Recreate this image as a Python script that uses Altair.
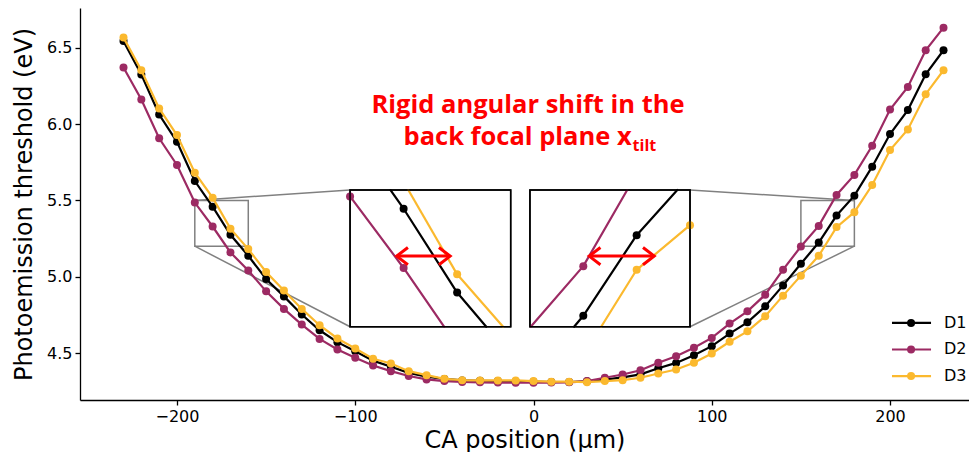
import altair as alt
import pandas as pd

# ---------------- data ----------------
x_pos = list(range(-230, 231, 10))

d1 = [6.544, 6.325, 6.063, 5.884, 5.627, 5.459, 5.275, 5.137, 4.985, 4.871,
      4.752, 4.649, 4.571, 4.512, 4.450, 4.410, 4.370, 4.345, 4.330, 4.320,
      4.318, 4.316, 4.314, 4.312, 4.310, 4.310, 4.315, 4.325, 4.340, 4.360,
      4.400, 4.435, 4.485, 4.545, 4.627, 4.701, 4.806, 4.943, 5.085, 5.224,
      5.401, 5.531, 5.721, 5.935, 6.092, 6.327, 6.484]
d2 = [6.371, 6.161, 5.907, 5.732, 5.486, 5.329, 5.159, 5.041, 4.904, 4.789,
      4.686, 4.592, 4.523, 4.469, 4.418, 4.381, 4.349, 4.327, 4.316, 4.310,
      4.308, 4.306, 4.305, 4.305, 4.306, 4.308, 4.316, 4.338, 4.359, 4.387,
      4.436, 4.479, 4.534, 4.599, 4.693, 4.773, 4.882, 5.046, 5.198, 5.333,
      5.536, 5.667, 5.858, 6.096, 6.244, 6.484, 6.632]
d3 = [6.567, 6.353, 6.103, 5.928, 5.682, 5.518, 5.315, 5.181, 5.031, 4.910,
      4.789, 4.682, 4.595, 4.530, 4.462, 4.431, 4.381, 4.355, 4.331, 4.322,
      4.320, 4.320, 4.320, 4.316, 4.312, 4.312, 4.309, 4.316, 4.322, 4.338,
      4.366, 4.392, 4.436, 4.497, 4.574, 4.642, 4.741, 4.876, 5.007, 5.137,
      5.325, 5.423, 5.601, 5.830, 5.965, 6.196, 6.353]

series_names = ["D1", "D2", "D3"]
series_colors = ["#000000", "#9C2A63", "#FBB92E"]

x_ticks = [-200, -100, 0, 100, 200]
y_ticks = [4.5, 5.0, 5.5, 6.0, 6.5]
x_domain = [-254.4, 244.3]
y_domain = [4.192, 6.761]

# zoomed windows (data coords) and where the insets sit (main-axis data coords)
inset_src_x = [[-190, -160], [150, 180]]
inset_src_y = [5.2, 5.5]
inset_box_x = [[-102.9, -12.8], [-2.0, 87.8]]
inset_box_y = [4.672, 5.568]
inset_side = ["left", "right"]

# red double arrows (inset data coords)
arrow_x = [[-181.3, -171.3], [161.1, 173.3]]
arrow_y = 5.355

# annotation text (main-axis data coords)
title_text = ["Rigid angular shift in the", "back focal plane x", "tilt"]
title_x = [-3.1, 55.1, 55.6]
title_y = [6.071, 5.866, 5.826]
title_size = [25.5, 25.5, 16]
title_align = ["center", "right", "left"]

# legend placement (main-axis data coords)
legend_y = [4.697, 4.523, 4.349]
legend_line_x = [201.1, 223.0]
legend_marker_x = 211.8
legend_label_x = 230.3

# ---------------- tables ----------------
rows = []
for name, vals in zip(series_names, [d1, d2, d3]):
    for xv, yv in zip(x_pos, vals):
        rows.append({"x": xv, "y": yv, "series": name})
df = pd.DataFrame(rows)

rect_df = pd.DataFrame({
    "x0": [s[0] for s in inset_src_x], "x1": [s[1] for s in inset_src_x],
    "y0": [inset_src_y[0]] * 2, "y1": [inset_src_y[1]] * 2,
})
box_df = pd.DataFrame({
    "x0": [b[0] for b in inset_box_x], "x1": [b[1] for b in inset_box_x],
    "y0": [inset_box_y[0]] * 2, "y1": [inset_box_y[1]] * 2,
})
con_rows = []
for k in range(2):
    idx = 0 if inset_side[k] == "left" else 1
    for j in range(2):
        con_rows.append({"xa": inset_src_x[k][idx], "ya": inset_src_y[j],
                         "xb": inset_box_x[k][idx], "yb": inset_box_y[j]})
con_df = pd.DataFrame(con_rows)

leg_df = pd.DataFrame({
    "series": series_names, "ly": legend_y,
    "lx0": [legend_line_x[0]] * 3, "lx1": [legend_line_x[1]] * 3,
    "lxc": [legend_marker_x] * 3, "ltx": [legend_label_x] * 3,
})

xs = alt.Scale(domain=x_domain, nice=False, zero=False)
ys = alt.Scale(domain=y_domain, nice=False, zero=False)
cs = alt.Scale(domain=series_names, range=series_colors)

AX = alt.Axis(values=x_ticks, grid=False, format="d")
AY = alt.Axis(values=y_ticks, grid=False, format=".1f", titlePadding=10)
XT = "CA position (µm)"
YT = "Photoemission threshold (eV)"


def X(f):
    return alt.X(f, scale=xs, axis=AX, title=XT)


def Y(f):
    return alt.Y(f, scale=ys, axis=AY, title=YT)


def C():
    return alt.Color("series:N", scale=cs, legend=None)


layers = []

# zoom rectangles and connectors
layers.append(alt.Chart(rect_df).mark_rect(fillOpacity=0, stroke="#808080", strokeWidth=1.5)
              .encode(x=X("x0:Q"), x2="x1:Q", y=Y("y0:Q"), y2="y1:Q"))
layers.append(alt.Chart(con_df).mark_rule(stroke="#808080", strokeWidth=1.5)
              .encode(x=X("xa:Q"), y=Y("ya:Q"), x2="xb:Q", y2="yb:Q"))

# main series
for name in series_names:
    base = alt.Chart(df).transform_filter(alt.datum.series == name)
    layers.append(base.mark_line(strokeWidth=2.2).encode(x=X("x:Q"), y=Y("y:Q"), color=C()))
    layers.append(base.mark_circle(size=64, opacity=1).encode(x=X("x:Q"), y=Y("y:Q"), color=C()))

# insets
for k in range(2):
    sx0, sx1 = inset_src_x[k]
    sy0, sy1 = inset_src_y
    bx0, bx1 = inset_box_x[k]
    by0, by1 = inset_box_y
    kx = (bx1 - bx0) / (sx1 - sx0)
    ky = (by1 - by0) / (sy1 - sy0)

    def mx(e, bx0=bx0, sx0=sx0, kx=kx):
        return f"{bx0} + (({e}) - ({sx0})) * {kx}"

    def my(e, by0=by0, sy0=sy0, ky=ky):
        return f"{by0} + (({e}) - ({sy0})) * {ky}"

    bk = box_df.iloc[[k]]
    layers.append(alt.Chart(bk).mark_rect(fill="white", stroke="black", strokeWidth=1.5)
                  .encode(x=X("x0:Q"), x2="x1:Q", y=Y("y0:Q"), y2="y1:Q"))

    for name in series_names:
        base = alt.Chart(df).transform_filter(alt.datum.series == name)
        seg = (base
               .transform_window(nx="lead(x)", ny="lead(y)", sort=[{"field": "x"}], groupby=["series"])
               .transform_filter("isValid(datum.nx)")
               .transform_calculate(dx="datum.nx - datum.x", dy="datum.ny - datum.y")
               .transform_calculate(
                   t0=(f"max(0, ({sx0} - datum.x) / datum.dx, datum.dy == 0 ? "
                       f"((datum.y >= {sy0} && datum.y <= {sy1}) ? -1 : 2) : "
                       f"min(({sy0} - datum.y) / datum.dy, ({sy1} - datum.y) / datum.dy))"),
                   t1=(f"min(1, ({sx1} - datum.x) / datum.dx, datum.dy == 0 ? "
                       f"((datum.y >= {sy0} && datum.y <= {sy1}) ? 2 : -1) : "
                       f"max(({sy0} - datum.y) / datum.dy, ({sy1} - datum.y) / datum.dy))"))
               .transform_filter("datum.t0 < datum.t1")
               .transform_calculate(
                   X0=mx("datum.x + datum.t0 * datum.dx"),
                   Y0=my("datum.y + datum.t0 * datum.dy"),
                   X1=mx("datum.x + datum.t1 * datum.dx"),
                   Y1=my("datum.y + datum.t1 * datum.dy"))
               .mark_rule(strokeWidth=2.2, strokeCap="round")
               .encode(x=X("X0:Q"), y=Y("Y0:Q"), x2="X1:Q", y2="Y1:Q", color=C()))
        layers.append(seg)
        pts = (base
               .transform_filter(f"datum.x >= {sx0} && datum.x <= {sx1} && datum.y >= {sy0} && datum.y <= {sy1}")
               .transform_calculate(PX=mx("datum.x"), PY=my("datum.y"))
               .mark_circle(size=64, opacity=1)
               .encode(x=X("PX:Q"), y=Y("PY:Q"), color=C()))
        layers.append(pts)

    arr_df = pd.DataFrame({"a0": [arrow_x[k][0]], "a1": [arrow_x[k][1]], "ay": [arrow_y]})
    arr = alt.Chart(arr_df).transform_calculate(
        A0=mx("datum.a0"), A1=mx("datum.a1"), AY=my("datum.ay"))
    layers.append(arr.mark_rule(stroke="red", strokeWidth=3)
                  .encode(x=X("A0:Q"), x2="A1:Q", y=Y("AY:Q")))
    layers.append(arr.mark_point(shape="M 1.3 -1 L 0 0 L 1.3 1", size=300, filled=False,
                                 stroke="red", strokeWidth=3, opacity=1)
                  .encode(x=X("A0:Q"), y=Y("AY:Q")))
    layers.append(arr.mark_point(shape="M -1.3 -1 L 0 0 L -1.3 1", size=300, filled=False,
                                 stroke="red", strokeWidth=3, opacity=1)
                  .encode(x=X("A1:Q"), y=Y("AY:Q")))

    layers.append(alt.Chart(bk).mark_rect(fillOpacity=0, stroke="black", strokeWidth=1.5)
                  .encode(x=X("x0:Q"), x2="x1:Q", y=Y("y0:Q"), y2="y1:Q"))

# legend (line + marker + label per series)
lg = alt.Chart(leg_df)
layers.append(lg.mark_rule(strokeWidth=2.2).encode(x=X("lx0:Q"), x2="lx1:Q", y=Y("ly:Q"), color=C()))
layers.append(lg.mark_circle(size=64, opacity=1).encode(x=X("lxc:Q"), y=Y("ly:Q"), color=C()))
layers.append(lg.mark_text(font="DejaVu Sans", fontSize=16, color="black", align="left",
                           baseline="middle").encode(x=X("ltx:Q"), y=Y("ly:Q"), text="series:N"))

# red annotation
for t, xv, yv, fs, al in zip(title_text, title_x, title_y, title_size, title_align):
    tdf = pd.DataFrame({"t": [t], "x": [xv], "y": [yv]})
    layers.append(alt.Chart(tdf).mark_text(
        font="Open Sans", fontWeight="bold", fontSize=fs, color="#FF0000",
        align=al, baseline="alphabetic").encode(x=X("x:Q"), y=Y("y:Q"), text="t:N"))

chart = (alt.layer(*layers)
         .properties(width=889, height=392,
                     padding={"left": 72, "top": 0, "right": 0, "bottom": 52},
                     autosize=alt.AutoSizeParams(type="none"))
         .configure_view(strokeWidth=0)
         .configure_axis(domainColor="black", domainWidth=1.3, tickColor="black",
                         tickWidth=1.3, tickSize=5, labelFont="DejaVu Sans",
                         labelFontSize=16, labelColor="black", labelPadding=3,
                         titleFont="DejaVu Sans", titleFontSize=24,
                         titleFontWeight="normal", titleColor="black"))

chart.save("out.html", embed_options={"renderer": "svg", "actions": False})
